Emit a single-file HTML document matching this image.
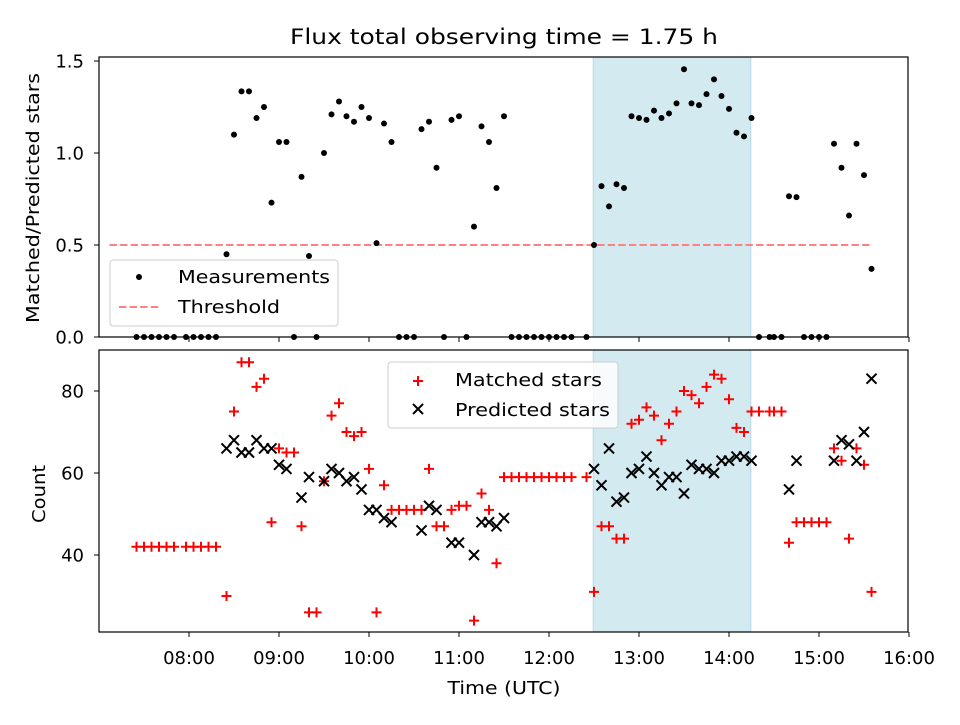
<!DOCTYPE html>
<html><head><meta charset="utf-8">
<style>
body{margin:0;background:#fff;}
svg text{font-family:"DejaVu Sans","Liberation Sans",sans-serif;fill:#000;}
</style></head>
<body>
<svg id="chart" width="960" height="720" viewBox="0 0 960 720" xmlns="http://www.w3.org/2000/svg">
<rect width="960" height="720" fill="#fff"/>
<text x="504" y="44" font-size="21.6" text-anchor="middle" textLength="428" lengthAdjust="spacingAndGlyphs">Flux total observing time = 1.75 h</text>
<g id="top"></g>
<g id="bottom"></g>
<text x="504" y="694" font-size="18" text-anchor="middle" textLength="113" lengthAdjust="spacingAndGlyphs">Time (UTC)</text>
<text transform="translate(39,198) rotate(-90)" font-size="18" text-anchor="middle" textLength="250" lengthAdjust="spacingAndGlyphs">Matched/Predicted stars</text>
<text transform="translate(45,494) rotate(-90)" font-size="18" text-anchor="middle" textLength="58" lengthAdjust="spacingAndGlyphs">Count</text>
</svg>
<script>
// time in minutes since 00:00 UTC
const times = [445,450,455,460,465,470,478,483,488,493,498,
505,510,515,520,525,530,535,540,545,550,555,560,565,570,575,580,585,590,595,600,605,610,615,620,625,630,635,640,645,650,655,660,665,670,675,680,685,690,
695,700,705,710,715,720,725,730,735,
745,750,755,760,765,770,775,780,785,790,795,800,805,810,815,820,825,830,835,840,845,850,855,860,
867,870,875,880,885,890,895,900,905,910,915,920,925,930,935];
const ratio = [0,0,0,0,0,0,0,0,0,0,0,
0.45,1.10,1.335,1.335,1.19,1.25,0.73,1.06,1.06,0,0.87,0.44,0,1.0,1.21,1.28,1.2,1.17,1.25,1.19,0.51,1.16,1.06,0,0,0,1.13,1.17,0.92,0,1.18,1.2,0,0.6,1.145,1.06,0.81,1.2,
0,0,0,0,0,0,0,0,0,
0,0.50,0.82,0.71,0.83,0.81,1.2,1.19,1.18,1.23,1.19,1.215,1.27,1.455,1.27,1.26,1.32,1.40,1.31,1.24,1.11,1.09,1.19,0,
0,0,0,0.765,0.76,0,0,0,0,1.05,0.92,0.66,1.05,0.88,0.37];
const matched = [42,42,42,42,42,42,42,42,42,42,42,
30,75,87,87,81,83,48,66,65,65,47,26,26,58,74,77,70,69,70,61,26,57,51,51,51,51,51,61,47,47,51,52,52,24,55,51,38,59,
59,59,59,59,59,59,59,59,59,
59,31,47,47,44,44,72,73,76,74,68,72,75,80,79,77,81,84,83,78,71,70,75,75,
75,75,75,43,48,48,48,48,48,66,63,44,66,62,31];
const predicted = [null,null,null,null,null,null,null,null,null,null,null,
66,68,65,65,68,66,66,62,61,null,54,59,null,58,61,60,58,59,56,51,51,49,48,null,null,null,46,52,51,null,43,43,null,40,48,48,47,49,
null,null,null,null,null,null,null,null,null,
null,61,57,66,53,54,60,61,64,60,57,59,59,55,62,61,61,60,63,63,64,64,63,null,
null,null,null,56,63,null,null,null,null,63,68,67,63,70,83];
const threshold = 0.5;
const spanStart = 749.5, spanEnd = 854.5;
const xTicks = [480,540,600,660,720,780,840,900,960];
const xTickLabels = ["08:00","09:00","10:00","11:00","12:00","13:00","14:00","15:00","16:00"];
const topTicks = [0,0.5,1.0,1.5];
const topTickLabels = ["0.0","0.5","1.0","1.5"];
const botTicks = [40,60,80];

const NS = "http://www.w3.org/2000/svg";
const L = 99, R = 908;
const x = t => L + (t - 420) * 1.5;
const yTop = v => 337 - v * 184;
const yBot = v => 555 - (v - 40) * 4.1;
function mk(tag, attrs, parent){const e=document.createElementNS(NS,tag);for(const k in attrs)e.setAttribute(k,attrs[k]);parent.appendChild(e);return e;}

function panel(g, top, bot, name){
  const sp = mk('rect',{x:x(spanStart),y:top,width:x(spanEnd)-x(spanStart),height:bot-top,fill:'#d4eaf1',stroke:'#b3d9e6','stroke-width':1},g);
  
  
  xTicks.forEach((t,i)=>{
    const tk = mk('line',{x1:x(t),x2:x(t),y1:bot,y2:bot+5,stroke:'#000','stroke-width':1},g);
    
    
  });
}
function frame(g, top, bot, name){
  const f = mk('rect',{x:L,y:top,width:R-L,height:bot-top,fill:'none',stroke:'#000','stroke-width':1.2},g);
  
  
}

// TOP PANEL
const gt = document.getElementById('top');
panel(gt,57,337,'top');
const th = mk('line',{x1:x(427),x2:x(935),y1:yTop(threshold),y2:yTop(threshold),stroke:'#ff8080','stroke-width':2,'stroke-dasharray':'7.4,3.2'},gt);


times.forEach((t,i)=>{
  const c = mk('circle',{cx:x(t),cy:yTop(ratio[i]),r:3,fill:'#000'},gt);
  
  
});
topTicks.forEach((v,i)=>{
  const tk = mk('line',{x1:L-5,x2:L,y1:yTop(v),y2:yTop(v),stroke:'#000'},gt);
  
  
  const tx = mk('text',{x:L-15,y:yTop(v)+6.5,'font-size':18,'text-anchor':'end'},gt);
  tx.textContent = topTickLabels[i];
  
  
});
frame(gt,57,337,'top');

// BOTTOM PANEL
const gb = document.getElementById('bottom');
panel(gb,350,632,'bottom');
times.forEach((t,i)=>{
  const cx=x(t), cy=yBot(matched[i]);
  const p = mk('path',{d:`M${cx-5},${cy}H${cx+5}M${cx},${cy-5}V${cy+5}`,stroke:'#ff0000','stroke-width':2,fill:'none'},gb);
  
  
});
times.forEach((t,i)=>{
  if(predicted[i]===null) return;
  const cx=x(t), cy=yBot(predicted[i]);
  const p = mk('path',{d:`M${cx-5},${cy-5}L${cx+5},${cy+5}M${cx-5},${cy+5}L${cx+5},${cy-5}`,stroke:'#000','stroke-width':2,fill:'none'},gb);
  
  
});
botTicks.forEach(v=>{
  const tk = mk('line',{x1:L-5,x2:L,y1:yBot(v),y2:yBot(v),stroke:'#000'},gb);
  
  
  const tx = mk('text',{x:L-15,y:yBot(v)+6.5,'font-size':18,'text-anchor':'end'},gb);
  tx.textContent = v;
  
  
});
xTicks.forEach((t,i)=>{
  const tx = mk('text',{x:x(t),y:664,'font-size':18,'text-anchor':'middle'},gb);
  tx.textContent = xTickLabels[i];
  
  
});
frame(gb,350,632,'bottom');

// LEGENDS
const lg1 = mk('g',{},gt);


mk('rect',{x:110,y:260,width:228,height:66,rx:3,fill:'#fff','fill-opacity':0.8,stroke:'#ccc'},lg1);
mk('circle',{cx:139,cy:277,r:3,fill:'#000'},lg1);
const t1 = mk('text',{x:178,y:283,'font-size':18,textLength:152,lengthAdjust:'spacingAndGlyphs'},lg1); t1.textContent='Measurements';
mk('line',{x1:119,x2:161,y1:307,y2:307,stroke:'#ff8080','stroke-width':2,'stroke-dasharray':'7.4,3.2'},lg1);
const t2 = mk('text',{x:178,y:313,'font-size':18,textLength:102,lengthAdjust:'spacingAndGlyphs'},lg1); t2.textContent='Threshold';

const lg2 = mk('g',{},gb);


mk('rect',{x:388,y:362,width:230,height:66,rx:3,fill:'#fff','fill-opacity':0.8,stroke:'#ccc'},lg2);
mk('path',{d:'M413,381H423M418,376V386',stroke:'#ff0000','stroke-width':2},lg2);
const t3 = mk('text',{x:455,y:386,'font-size':18,textLength:147,lengthAdjust:'spacingAndGlyphs'},lg2); t3.textContent='Matched stars';
mk('path',{d:'M413,404L423,414M413,414L423,404',stroke:'#000','stroke-width':2},lg2);
const t4 = mk('text',{x:455,y:416,'font-size':18,textLength:155,lengthAdjust:'spacingAndGlyphs'},lg2); t4.textContent='Predicted stars';
</script>
</body></html>
